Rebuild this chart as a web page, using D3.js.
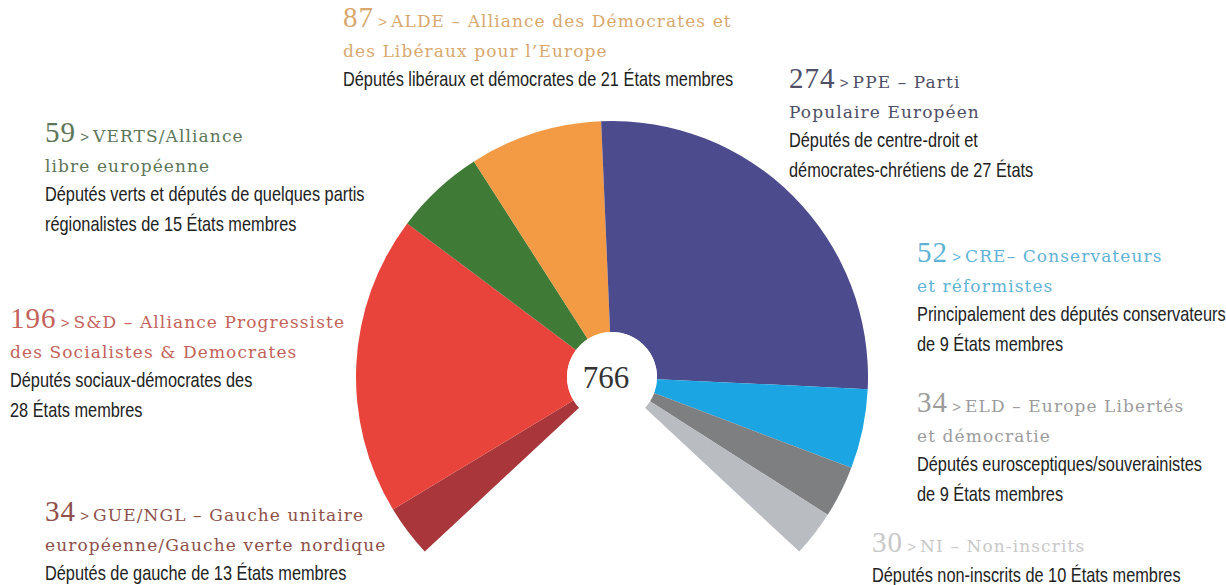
<!DOCTYPE html>
<html>
<head>
<meta charset="utf-8">
<script src="https://cdn.jsdelivr.net/npm/d3@7"></script>
<style>
  body { margin: 0; background: #fff; }
  svg { display: block; }
  .num { font-family: "Liberation Serif", "DejaVu Serif", serif; letter-spacing: 1px; }
  .title { font-family: "DejaVu Serif", "Liberation Serif", serif; letter-spacing: 1.1px; }
  .sep { font-family: "Liberation Sans", sans-serif; }
  .desc { font-family: "Liberation Sans", sans-serif; fill: #222; }
</style>
</head>
<body>
<div id="app"></div>
<script>
const groups = ["GUE/NGL", "S&D", "VERTS/ALE", "ALDE", "PPE", "CRE", "ELD", "NI"];
const seats = [34, 196, 59, 87, 274, 52, 34, 30];

const titles = [
  ["GUE/NGL – Gauche unitaire", "européenne/Gauche verte nordique"],
  ["S&D – Alliance Progressiste", "des Socialistes & Democrates"],
  ["VERTS/Alliance", "libre européenne"],
  ["ALDE – Alliance des Démocrates et", "des Libéraux pour l’Europe"],
  ["PPE – Parti", "Populaire Européen"],
  ["CRE– Conservateurs", "et réformistes"],
  ["ELD – Europe Libertés", "et démocratie"],
  ["NI – Non-inscrits"],
];

const descriptions = [
  ["Députés de gauche de 13 États membres"],
  ["Députés sociaux-démocrates des", "28 États membres"],
  ["Députés verts et députés de quelques partis", "régionalistes de 15 États membres"],
  ["Députés libéraux  et démocrates de 21 États membres"],
  ["Députés de centre-droit et", "démocrates-chrétiens de 27 États"],
  ["Principalement des députés conservateurs", "de 9 États membres"],
  ["Députés eurosceptiques/souverainistes", "de 9 États membres"],
  ["Députés non-inscrits de 10 États membres"],
];

// styling / layout
const width = 1226, height = 585;
const center = { x: 612, y: 377 };
const radius = { inner: 45, outer: 256 };
const span = 133; // degrees each side of 12 o'clock
const descScale = 0.817; // condensed look for the descriptions

const color = d3.scaleOrdinal()
  .domain(groups)
  .range(["#a8363a", "#e8443c", "#3f7a36", "#f29a44", "#4b4b8e", "#1ba6e3", "#7d7f80", "#b9bdc2"]);

const textColor = d3.scaleOrdinal()
  .domain(groups)
  .range(["#8e5049", "#c4625a", "#5d7658", "#d8a86e", "#4e4e66", "#5fb3d6", "#9c9c9c", "#c8c8c8"]);

const labelPos = {
  "GUE/NGL": { x: 45, y: 521 },
  "S&D": { x: 10, y: 328 },
  "VERTS/ALE": { x: 45, y: 142 },
  "ALDE": { x: 343, y: 27 },
  "PPE": { x: 789, y: 88 },
  "CRE": { x: 917, y: 262 },
  "ELD": { x: 917, y: 412 },
  "NI": { x: 872, y: 552 },
};
const lineStep = 29.5;

const svg = d3.select("#app")
  .append("svg")
  .attr("width", width)
  .attr("height", height);

const pie = d3.pie()
  .sort(null)
  .value((d) => d.seats)
  .startAngle((-span * Math.PI) / 180)
  .endAngle((span * Math.PI) / 180);

const arc = d3.arc().innerRadius(radius.inner).outerRadius(radius.outer);

const data = groups.map((g, i) => ({ group: g, seats: seats[i] }));

const chart = svg.append("g").attr("transform", `translate(${center.x},${center.y})`);

chart
  .selectAll("path")
  .data(pie(data))
  .join("path")
  .attr("d", arc)
  .attr("fill", (d) => color(d.data.group));

chart
  .append("circle")
  .attr("r", radius.inner)
  .attr("fill", "#fff");

chart
  .append("text")
  .attr("class", "num")
  .attr("x", -6)
  .attr("y", 11)
  .attr("text-anchor", "middle")
  .style("letter-spacing", "0px")
  .style("font-size", "31px")
  .style("fill", "#333")
  .text(d3.sum(seats));

// labels
groups.forEach((g, i) => {
  const pos = labelPos[g];
  const block = svg.append("g").attr("transform", `translate(${pos.x},${pos.y})`);
  const c = textColor(g);

  const first = block.append("text").attr("y", 0).style("fill", c);
  first.append("tspan").attr("class", "num").style("font-size", "29px").text(seats[i]);
  first.append("tspan").attr("class", "sep").style("font-size", "15px").text(" > ");
  first.append("tspan").attr("class", "title").style("font-size", "17px").text(titles[i][0]);

  let line = 1;
  titles[i].slice(1).forEach((t) => {
    block.append("text")
      .attr("class", "title")
      .attr("y", line * lineStep)
      .style("font-size", "17px")
      .style("fill", c)
      .text(t);
    line++;
  });

  descriptions[i].forEach((t) => {
    block.append("text")
      .attr("class", "desc")
      .attr("transform", `translate(0,${line * lineStep}) scale(${descScale},1)`)
      .style("font-size", "20px")
      .text(t);
    line++;
  });
});
</script>
</body>
</html>
